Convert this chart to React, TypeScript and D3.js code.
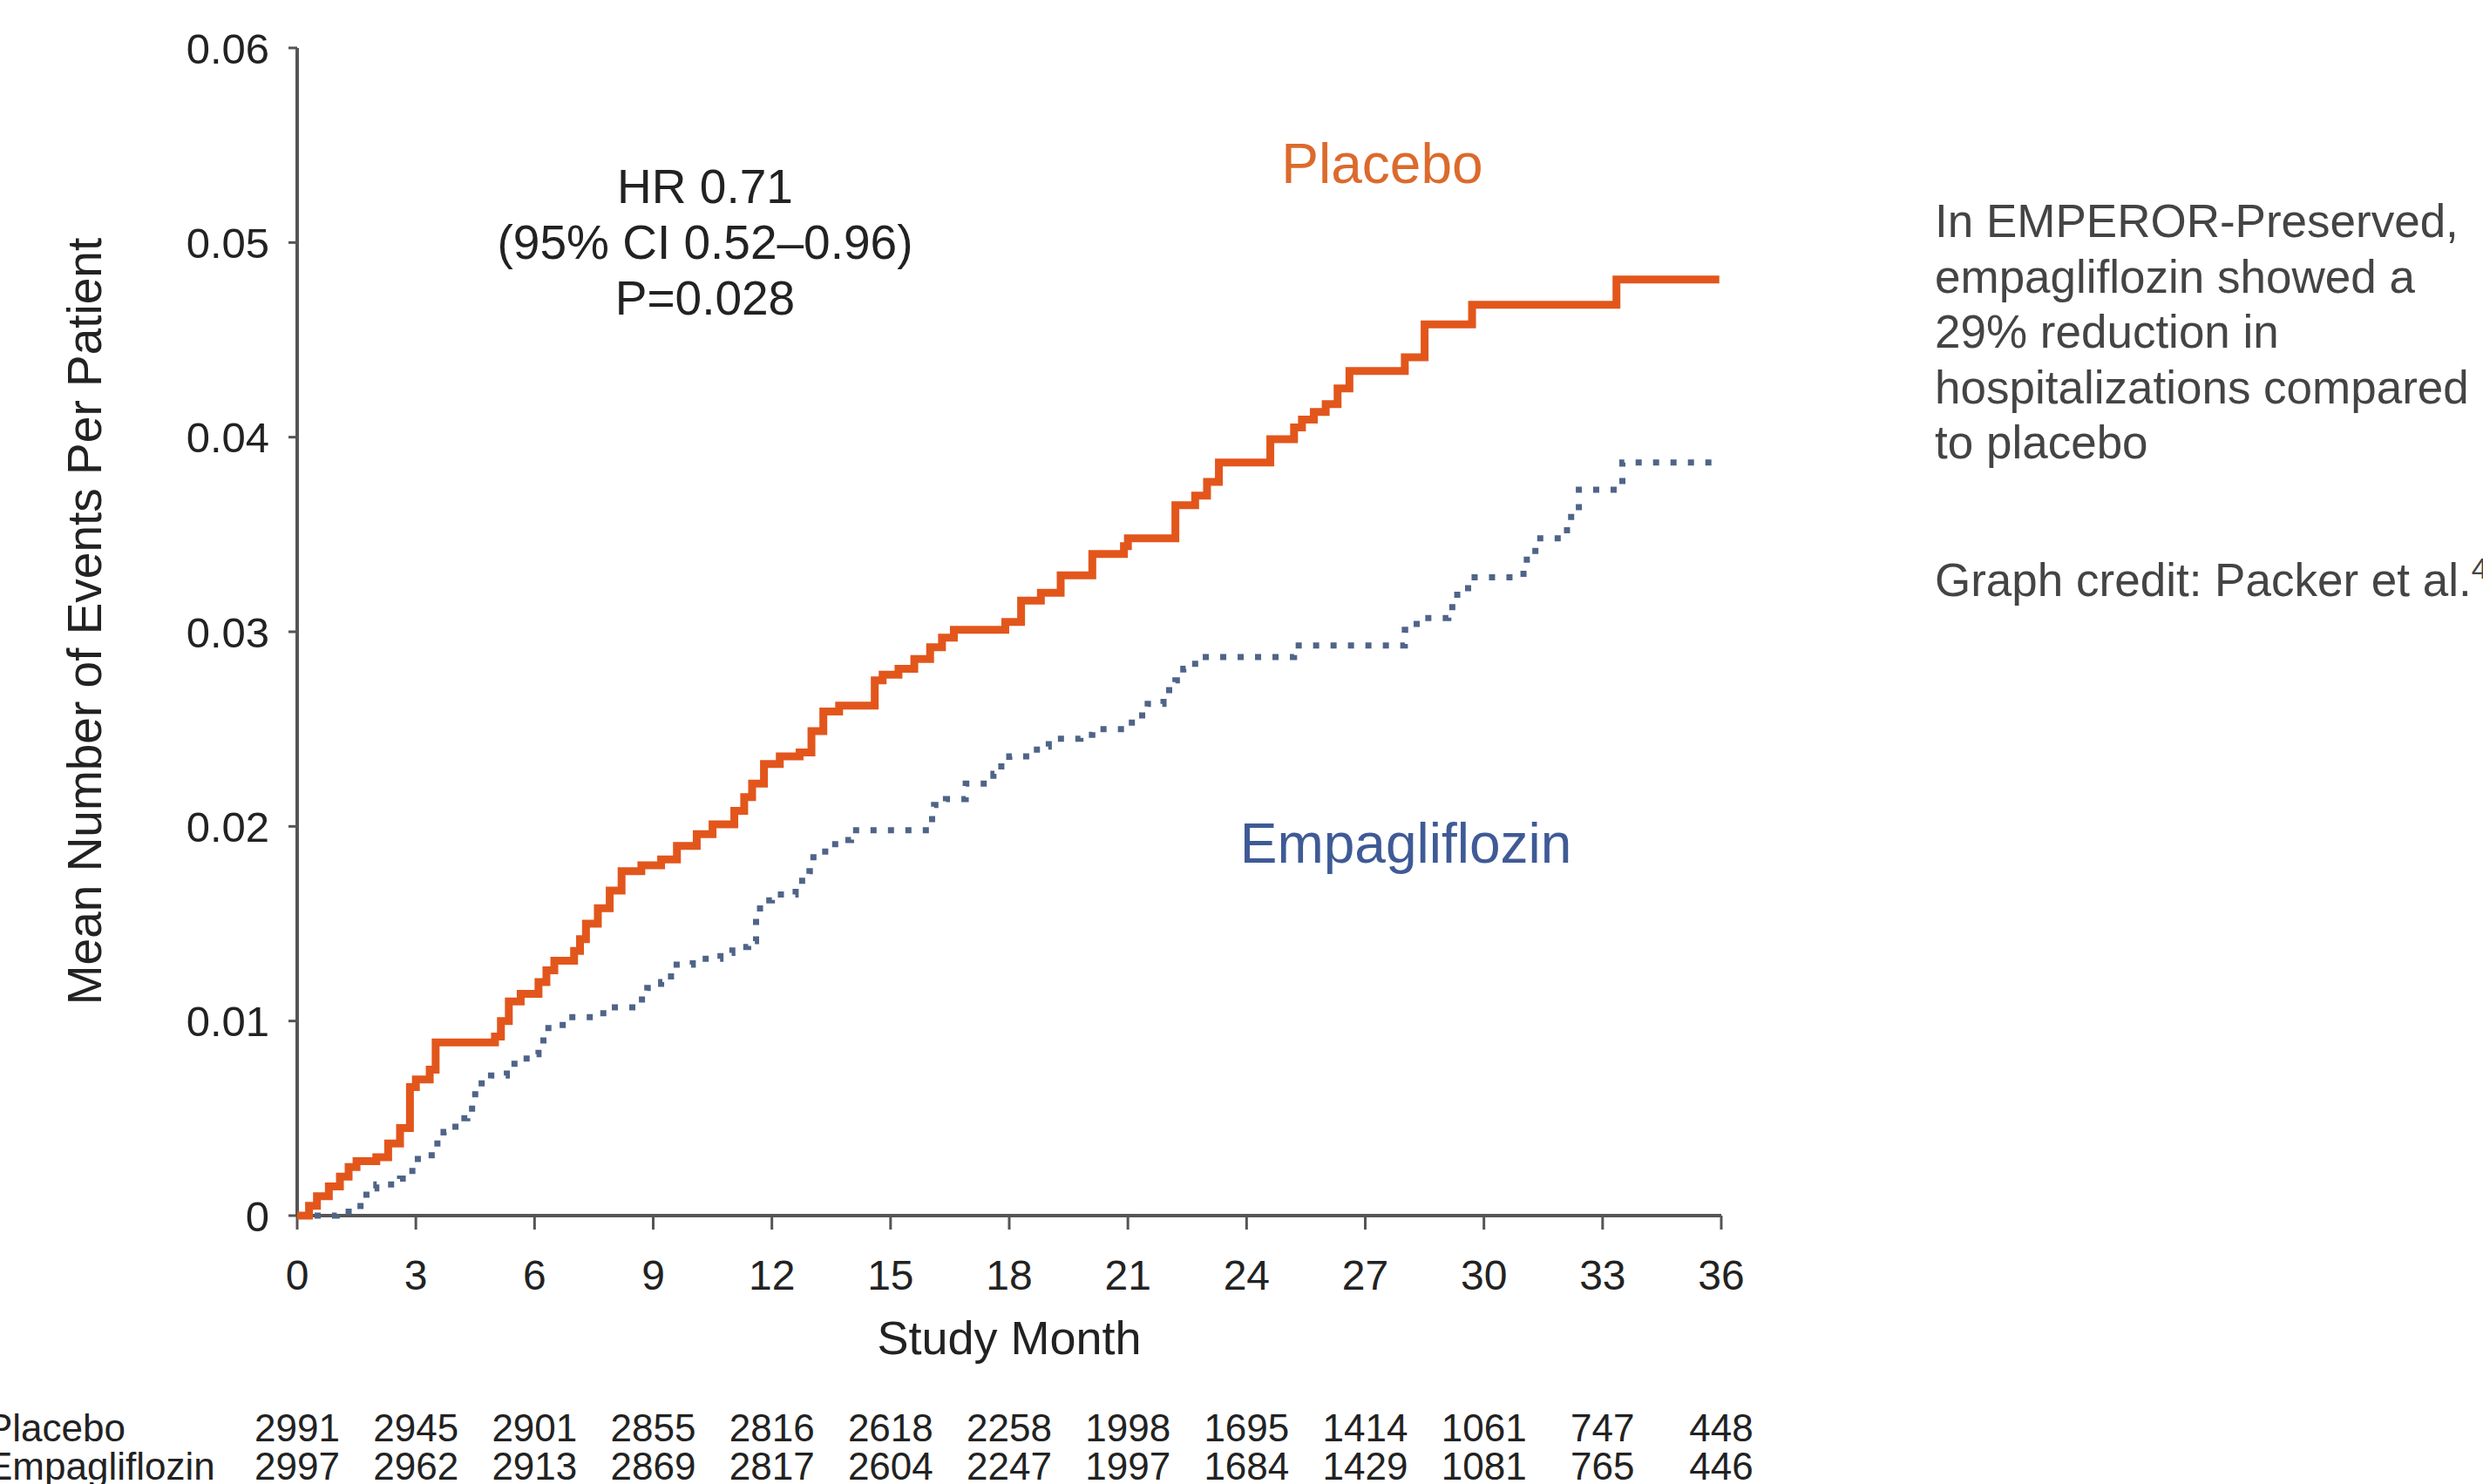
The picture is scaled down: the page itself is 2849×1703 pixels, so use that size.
import { scaleLinear, line, curveStepAfter } from 'd3'

// cumulative mean events per patient: [study month, value]
const placebo: [number, number][] = [
    [0, 0], [0.3, 0.0005], [0.5, 0.001], [0.8, 0.0015], [1.08, 0.002], [1.3, 0.0025],
    [1.5, 0.0028], [2.0, 0.003], [2.3, 0.0037], [2.6, 0.0045], [2.85, 0.0066], [3.0, 0.007],
    [3.35, 0.0075], [3.5, 0.0089], [5.0, 0.0092], [5.15, 0.01], [5.35, 0.011], [5.65, 0.0114],
    [6.1, 0.012], [6.3, 0.0126], [6.5, 0.0131], [7.0, 0.0136], [7.15, 0.0142], [7.3, 0.015],
    [7.6, 0.0158], [7.9, 0.0167], [8.2, 0.0177], [8.7, 0.018], [9.2, 0.0183], [9.6, 0.019],
    [10.1, 0.0196], [10.5, 0.0201], [11.05, 0.0208], [11.3, 0.0215], [11.5, 0.0222],
    [11.8, 0.0232], [12.2, 0.0236], [12.7, 0.0238], [13.0, 0.0249], [13.3, 0.0259],
    [13.7, 0.0262], [14.6, 0.0275], [14.8, 0.0278], [15.2, 0.0281], [15.6, 0.0286],
    [16.0, 0.0292], [16.3, 0.0297], [16.6, 0.0301], [17.9, 0.0305], [18.3, 0.0316],
    [18.8, 0.032], [19.3, 0.0329], [20.1, 0.034], [20.9, 0.0344], [21.0, 0.0348],
    [22.2, 0.0365], [22.7, 0.037], [23.0, 0.0377], [23.3, 0.0387], [24.6, 0.0399],
    [25.2, 0.0405], [25.4, 0.0409], [25.7, 0.0413], [26.0, 0.0417], [26.3, 0.0425],
    [26.6, 0.0434], [28.0, 0.0441], [28.5, 0.0458], [29.7, 0.0468], [33.35, 0.0481],
    [35.95, 0.0481]
]

const empagliflozin: [number, number][] = [
    [0, 0], [1.0, 0.0002], [1.6, 0.0008], [1.75, 0.0014], [2.0, 0.0016], [2.6, 0.0019],
    [2.75, 0.0023], [3.05, 0.0031], [3.4, 0.0037], [3.7, 0.0043], [4.0, 0.005], [4.3, 0.0055],
    [4.5, 0.0068], [4.9, 0.0072], [5.3, 0.0078], [5.8, 0.0083], [6.1, 0.009], [6.35, 0.0098],
    [6.8, 0.0102], [7.5, 0.0104], [7.95, 0.0107], [8.55, 0.0111], [8.85, 0.0117], [9.2, 0.012],
    [9.45, 0.0129], [10.0, 0.0132], [10.7, 0.0135], [11.0, 0.0138], [11.4, 0.0141],
    [11.6, 0.0155], [11.7, 0.0162], [12.0, 0.0165], [12.6, 0.0172], [12.95, 0.0177],
    [13.05, 0.0187], [13.6, 0.0193], [14.0, 0.0198], [16.05, 0.0207], [16.1, 0.0211],
    [16.4, 0.0214], [16.9, 0.0222], [17.6, 0.0227], [17.8, 0.0234], [18.0, 0.0236],
    [18.7, 0.0241], [19.0, 0.0245], [19.8, 0.0247], [20.1, 0.025], [21.1, 0.0257],
    [21.5, 0.0263], [21.9, 0.027], [22.2, 0.0275], [22.4, 0.0281], [22.7, 0.0287],
    [25.2, 0.0293], [28.0, 0.0301], [28.3, 0.0307], [29.1, 0.031], [29.2, 0.0319],
    [29.6, 0.0328], [31.0, 0.0337], [31.3, 0.0348], [32.1, 0.0359], [32.4, 0.0373],
    [33.5, 0.0387], [35.9, 0.0387]
]

const monthTicks = [0, 3, 6, 9, 12, 15, 18, 21, 24, 27, 30, 33, 36]
const yTicks = [0, 0.01, 0.02, 0.03, 0.04, 0.05, 0.06]
const yTickLabels = ['0', '0.01', '0.02', '0.03', '0.04', '0.05', '0.06']

const atRiskPlacebo = [2991, 2945, 2901, 2855, 2816, 2618, 2258, 1998, 1695, 1414, 1061, 747, 448]
const atRiskEmpa = [2997, 2962, 2913, 2869, 2817, 2604, 2247, 1997, 1684, 1429, 1081, 765, 446]

const hrLines = ['HR 0.71', '(95% CI 0.52–0.96)', 'P=0.028']
const noteLines = [
    'In EMPEROR-Preserved,',
    'empagliflozin showed a',
    '29% reduction in',
    'hospitalizations compared',
    'to placebo'
]

const W = 2849
const H = 1703
const font = '"Liberation Sans", Arial, Helvetica, sans-serif'

export default function App() {
    const x = scaleLinear().domain([0, 36]).range([341, 1975])
    const y = scaleLinear().domain([0, 0.06]).range([1395, 55])

    const step = line<[number, number]>()
        .curve(curveStepAfter)
        .x(d => x(d[0]))
        .y(d => y(d[1]))

    const axisColor = '#555'
    const textColor = '#222'

    return (
        <svg
            width={W}
            height={H}
            style={{ position: 'absolute', left: 0, top: 0, background: '#fff' }}
            fontFamily={font}
        >
            {/* y axis */}
            <line x1={x(0)} x2={x(0)} y1={y(0)} y2={y(0.06)} stroke={axisColor} strokeWidth={4} />
            {yTicks.map((t, i) => (
                <g key={t}>
                    <line x1={x(0) - 10} x2={x(0)} y1={y(t)} y2={y(t)} stroke={axisColor} strokeWidth={3} />
                    <text x={309} y={y(t)} dy="0.36em" textAnchor="end" fontSize={49} fill={textColor}>
                        {yTickLabels[i]}
                    </text>
                </g>
            ))}
            <text
                transform="translate(96,713) rotate(-90)"
                textAnchor="middle"
                dy="0.36em"
                fontSize={55}
                fill={textColor}
            >
                Mean Number of Events Per Patient
            </text>

            {/* x axis */}
            <line x1={x(0)} x2={x(36)} y1={y(0)} y2={y(0)} stroke={axisColor} strokeWidth={4} />
            {monthTicks.map(m => (
                <g key={m}>
                    <line x1={x(m)} x2={x(m)} y1={y(0)} y2={y(0) + 16} stroke={axisColor} strokeWidth={3} />
                    <text x={x(m)} y={1463} dy="0.36em" textAnchor="middle" fontSize={48} fill={textColor}>
                        {m}
                    </text>
                </g>
            ))}
            <text x={(x(0) + x(36)) / 2} y={1554} textAnchor="middle" fontSize={54} fill={textColor}>
                Study Month
            </text>

            {/* curves */}
            <path
                d={step(empagliflozin) ?? ''}
                fill="none"
                stroke="#4f6488"
                strokeWidth={7}
                strokeDasharray="7 13"
            />
            <path d={step(placebo) ?? ''} fill="none" stroke="#e2561c" strokeWidth={9} />

            {/* annotations */}
            {hrLines.map((s, i) => (
                <text key={s} x={809} y={213 + i * 64} dy="0.36em" textAnchor="middle" fontSize={55} fill={textColor}>
                    {s}
                </text>
            ))}
            <text x={1586} y={187} dy="0.36em" textAnchor="middle" fontSize={64} fill="#dc6a2c">
                Placebo
            </text>
            <text x={1613} y={967} dy="0.36em" textAnchor="middle" fontSize={64} fill="#3f5a96">
                Empagliflozin
            </text>

            {/* numbers at risk */}
            <text x={-15} y={1638} dy="0.36em" fontSize={44} fill={textColor}>Placebo</text>
            <text x={-15} y={1682} dy="0.36em" fontSize={44} fill={textColor}>Empagliflozin</text>
            {monthTicks.map((m, i) => (
                <g key={m}>
                    <text x={x(m)} y={1638} dy="0.36em" textAnchor="middle" fontSize={44} fill={textColor}>
                        {atRiskPlacebo[i]}
                    </text>
                    <text x={x(m)} y={1682} dy="0.36em" textAnchor="middle" fontSize={44} fill={textColor}>
                        {atRiskEmpa[i]}
                    </text>
                </g>
            ))}

            {/* side note */}
            {noteLines.map((s, i) => (
                <text key={s} x={2220} y={272 + i * 63.5} fontSize={53} fill="#444">
                    {s}
                </text>
            ))}
            <text x={2220} y={684} fontSize={53} fill="#444">
                Graph credit: Packer et al.<tspan dy={-20} fontSize={34}>4</tspan>
            </text>
        </svg>
    )
}
